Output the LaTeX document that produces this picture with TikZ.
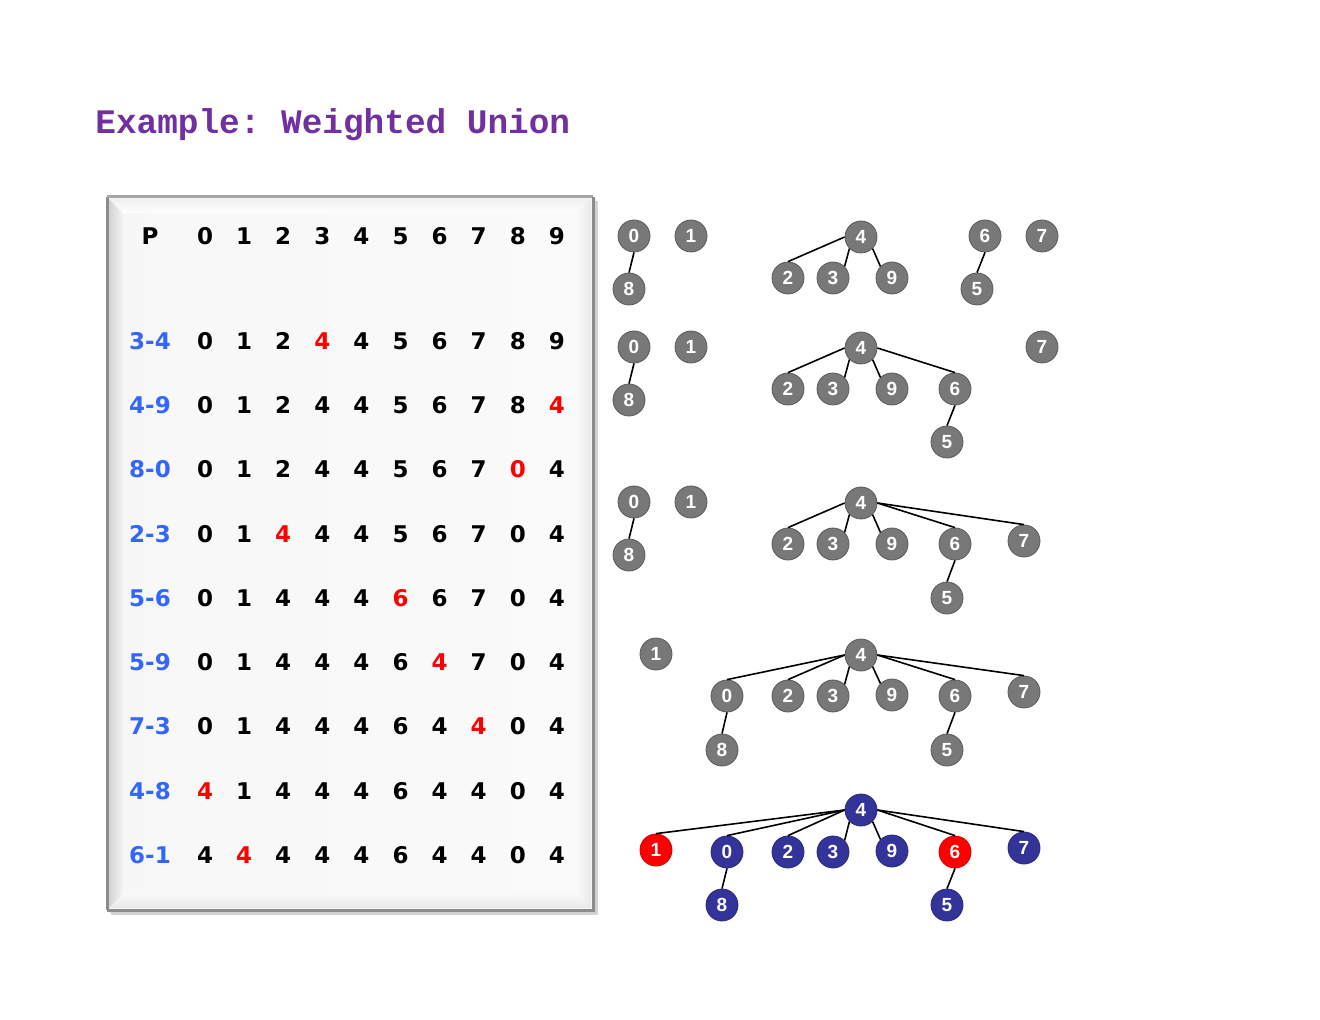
\documentclass[tikz,border=0pt]{standalone}
\usepackage{fontspec}
\setmainfont{DejaVu Sans}
\newfontfamily\titlefont{Liberation Mono}
\newfontfamily\nodefont{Liberation Sans}
\definecolor{ttlpurple}{HTML}{7030A0}
\definecolor{lblblue}{HTML}{3366FF}
\definecolor{ngray}{HTML}{787878}
\definecolor{nblue}{HTML}{333399}
\definecolor{nred}{HTML}{FF0000}
\tikzset{
  tcell/.style={inner sep=0pt, font=\bfseries\fontsize{11.5}{13}\selectfont},
  tlab/.style={tcell, text=lblblue},
  tn/.style={circle, minimum size=16pt, inner sep=0pt, fill=ngray, draw=ngray!75!black, line width=0.4pt, text=white, font=\nodefont\bfseries\fontsize{9.5}{10}\selectfont},
  tb/.style={tn, fill=nblue, draw=nblue!80!black},
  tr/.style={tn, fill=nred, draw=nred!80!black},
  edge/.style={draw=black, line width=0.8pt},
}
\newcommand\tabrow[6]{%
  \node[#4] (r#1-l) at (150,#2) {#3};
  \foreach \v [count=\i from 0] in {#5} {%
    \ifnum\i=#6\relax\def\cc{red}\else\def\cc{black}\fi
    \node[tcell,text=\cc] (r#1-c\i) at ({205+39.1*\i},#2) {\v};
  }%
}
\begin{document}
\begin{tikzpicture}[x=0.5pt,y=-0.5pt]
\useasboundingbox (0,0) rectangle (1320,1020);
% title
\node[anchor=base west, inner sep=0pt, text=ttlpurple, font=\frenchspacing\titlefont\bfseries\fontsize{17.2}{20}\selectfont] (title) at (95,134) {Example: Weighted Union};
% frame
\fill[black!35, opacity=0.5] (111,201) rectangle (598,915);
\fill[black!20, opacity=0.5] (109,199) rectangle (596,913);
\fill[white!97!black] (107,197) rectangle (593,910);
\shade[left color=black!17, right color=black!3] (109,199) -- (124,214) -- (124,893) -- (109,908) -- cycle;
\shade[top color=black!6, bottom color=white] (109,199) -- (591,199) -- (576,214) -- (124,214) -- cycle;
\shade[left color=black!2, right color=black!9] (591,199) -- (591,908) -- (576,893) -- (576,214) -- cycle;
\shade[top color=black!2, bottom color=black!9] (124,893) -- (576,893) -- (591,908) -- (109,908) -- cycle;
\shade[left color=black!3, right color=white!98!black] (124,214) rectangle (576,893);
\draw[black!45, line width=1.5pt] (107,910) -- (107,197);
\draw[black!35, line width=1.5pt] (107,197) -- (593,197);
\draw[black!45, line width=1.5pt] (593,197) -- (593,910) -- (107,910);
% table
\tabrow{0}{236}{P}{tcell}{0,1,2,3,4,5,6,7,8,9}{-1}
\tabrow{1}{341}{3-4}{tlab}{0,1,2,4,4,5,6,7,8,9}{3}
\tabrow{2}{405}{4-9}{tlab}{0,1,2,4,4,5,6,7,8,4}{9}
\tabrow{3}{469}{8-0}{tlab}{0,1,2,4,4,5,6,7,0,4}{8}
\tabrow{4}{534}{2-3}{tlab}{0,1,4,4,4,5,6,7,0,4}{2}
\tabrow{5}{598}{5-6}{tlab}{0,1,4,4,4,6,6,7,0,4}{5}
\tabrow{6}{662}{5-9}{tlab}{0,1,4,4,4,6,4,7,0,4}{6}
\tabrow{7}{726}{7-3}{tlab}{0,1,4,4,4,6,4,4,0,4}{7}
\tabrow{8}{791}{4-8}{tlab}{4,1,4,4,4,6,4,4,0,4}{0}
\tabrow{9}{855}{6-1}{tlab}{4,4,4,4,4,6,4,4,0,4}{1}
% group A
\node[tn] (a0) at (634,236) {0};
\node[tn] (a8) at (629,289) {8};
\node[tn] (a1) at (691,236) {1};
\node[tn] (a4) at (861,237) {4};
\node[tn] (a2) at (788,278) {2};
\node[tn] (a3) at (833,278) {3};
\node[tn] (a9) at (892,278) {9};
\node[tn] (a6) at (985,236) {6};
\node[tn] (a5) at (977,289) {5};
\node[tn] (a7) at (1042,236) {7};
\draw[edge] (a0.south) -- (a8.north);
\draw[edge] (a4.west) -- (a2.north);
\draw[edge] (a4.south west) -- (a3.north east);
\draw[edge] (a4.south east) -- (a9.north west);
\draw[edge] (a6.south) -- (a5.north);
% group B
\node[tn] (b0) at (634,347) {0};
\node[tn] (b8) at (629,400) {8};
\node[tn] (b1) at (691,347) {1};
\node[tn] (b4) at (861,348) {4};
\node[tn] (b2) at (788,389) {2};
\node[tn] (b3) at (833,389) {3};
\node[tn] (b9) at (892,389) {9};
\node[tn] (b6) at (955,389) {6};
\node[tn] (b5) at (947,442) {5};
\node[tn] (b7) at (1042,347) {7};
\draw[edge] (b0.south) -- (b8.north);
\draw[edge] (b4.west) -- (b2.north);
\draw[edge] (b4.south west) -- (b3.north east);
\draw[edge] (b4.south east) -- (b9.north west);
\draw[edge] (b4.east) -- (b6.north);
\draw[edge] (b6.south) -- (b5.north);
% group C
\node[tn] (c0) at (634,502) {0};
\node[tn] (c8) at (629,555) {8};
\node[tn] (c1) at (691,502) {1};
\node[tn] (c4) at (861,503) {4};
\node[tn] (c2) at (788,544) {2};
\node[tn] (c3) at (833,544) {3};
\node[tn] (c9) at (892,544) {9};
\node[tn] (c6) at (955,544) {6};
\node[tn] (c5) at (947,598) {5};
\node[tn] (c7) at (1024,541) {7};
\draw[edge] (c0.south) -- (c8.north);
\draw[edge] (c4.west) -- (c2.north);
\draw[edge] (c4.south west) -- (c3.north east);
\draw[edge] (c4.south east) -- (c9.north west);
\draw[edge] (c4.east) -- (c6.north);
\draw[edge] (c4.east) -- (c7.north);
\draw[edge] (c6.south) -- (c5.north);
% group D
\node[tn] (d1) at (656,654) {1};
\node[tn] (d4) at (861,655) {4};
\node[tn] (d0) at (727,696) {0};
\node[tn] (d8) at (722,750) {8};
\node[tn] (d2) at (788,696) {2};
\node[tn] (d3) at (833,696) {3};
\node[tn] (d9) at (892,695) {9};
\node[tn] (d6) at (955,696) {6};
\node[tn] (d5) at (947,750) {5};
\node[tn] (d7) at (1024,692) {7};
\draw[edge] (d4.west) -- (d0.north);
\draw[edge] (d0.south) -- (d8.north);
\draw[edge] (d4.west) -- (d2.north);
\draw[edge] (d4.south west) -- (d3.north east);
\draw[edge] (d4.south east) -- (d9.north west);
\draw[edge] (d4.east) -- (d6.north);
\draw[edge] (d4.east) -- (d7.north);
\draw[edge] (d6.south) -- (d5.north);
% group E
\node[tb] (e4) at (861,810) {4};
\node[tr] (e1) at (656,850) {1};
\node[tb] (e0) at (727,852) {0};
\node[tb] (e8) at (722,905) {8};
\node[tb] (e2) at (788,852) {2};
\node[tb] (e3) at (833,852) {3};
\node[tb] (e9) at (892,851) {9};
\node[tr] (e6) at (955,852) {6};
\node[tb] (e5) at (947,905) {5};
\node[tb] (e7) at (1024,848) {7};
\draw[edge] (e4.west) -- (e1.north);
\draw[edge] (e4.west) -- (e0.north);
\draw[edge] (e0.south) -- (e8.north);
\draw[edge] (e4.west) -- (e2.north);
\draw[edge] (e4.south west) -- (e3.north east);
\draw[edge] (e4.south east) -- (e9.north west);
\draw[edge] (e4.east) -- (e6.north);
\draw[edge] (e4.east) -- (e7.north);
\draw[edge] (e6.south) -- (e5.north);
\end{tikzpicture}
\end{document}
